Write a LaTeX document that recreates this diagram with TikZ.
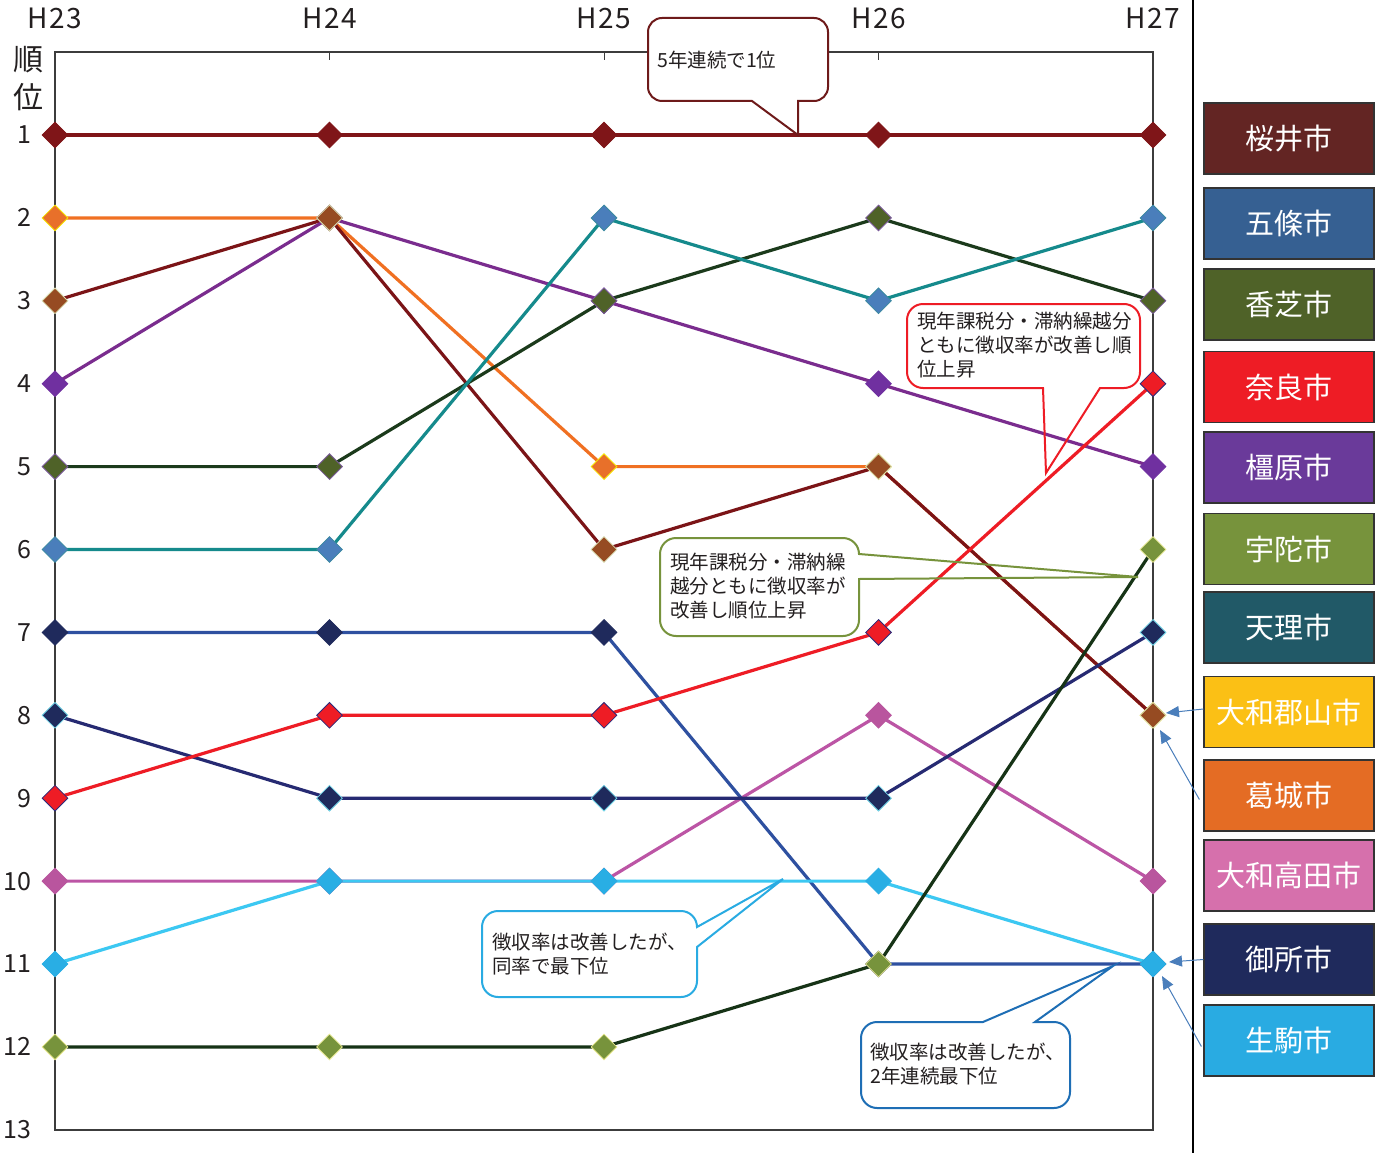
\documentclass[tikz,border=0pt]{standalone}
\usepackage{fontspec}
\setmainfont{Noto Sans CJK JP}
\newfontfamily\hdfont[LetterSpace=5]{Noto Sans CJK JP}
\usetikzlibrary{shapes.geometric,arrows.meta}
\definecolor{txt}{HTML}{231F20}
\definecolor{frame}{HTML}{3C3C3C}
\definecolor{lnA}{HTML}{7F1518}\definecolor{mfA}{HTML}{7F1518}\definecolor{moA}{HTML}{7F1518}
\definecolor{lnB}{HTML}{F07022}\definecolor{mfB}{HTML}{E8702A}\definecolor{moB}{HTML}{F5E400}
\definecolor{lnC}{HTML}{7B1417}\definecolor{mfC}{HTML}{964B22}\definecolor{moC}{HTML}{D9DDB0}
\definecolor{lnD}{HTML}{7A2C8E}\definecolor{mfD}{HTML}{7030A0}\definecolor{moD}{HTML}{7030A0}
\definecolor{lnE}{HTML}{1B3A1B}\definecolor{mfE}{HTML}{4F6228}\definecolor{moE}{HTML}{7A5A9A}
\definecolor{lnF}{HTML}{158A8C}\definecolor{mfF}{HTML}{4A7EBB}\definecolor{moF}{HTML}{3A8AA0}
\definecolor{lnG}{HTML}{2E50A0}\definecolor{mfG}{HTML}{1F2A5C}\definecolor{moG}{HTML}{1F2A5C}
\definecolor{lnH}{HTML}{262A72}\definecolor{mfH}{HTML}{1F2A5C}\definecolor{moH}{HTML}{6FD3E6}
\definecolor{lnI}{HTML}{EE1C25}\definecolor{mfI}{HTML}{EE1C25}\definecolor{moI}{HTML}{2A2A7A}
\definecolor{lnJ}{HTML}{BC55A5}\definecolor{mfJ}{HTML}{B9559E}\definecolor{moJ}{HTML}{B9559E}
\definecolor{lnK}{HTML}{3CC8F2}\definecolor{mfK}{HTML}{29AEE4}\definecolor{moK}{HTML}{29AEE4}
\definecolor{lnL}{HTML}{163316}\definecolor{mfL}{HTML}{77933C}\definecolor{moL}{HTML}{E8E890}
\definecolor{lg1}{HTML}{632523}
\definecolor{lg2}{HTML}{366092}
\definecolor{lg3}{HTML}{4F6228}
\definecolor{lg4}{HTML}{EE1C25}
\definecolor{lg5}{HTML}{6A3A9A}
\definecolor{lg6}{HTML}{77933C}
\definecolor{lg7}{HTML}{215967}
\definecolor{lg8}{HTML}{FBC015}
\definecolor{lg9}{HTML}{E46C24}
\definecolor{lg10}{HTML}{D670AC}
\definecolor{lg11}{HTML}{1F2A5C}
\definecolor{lg12}{HTML}{29ABE2}
\definecolor{lgborder}{HTML}{333333}
\definecolor{arrc}{HTML}{4A7EBB}
\definecolor{coA}{HTML}{6E1A1A}
\definecolor{coB}{HTML}{EE1C25}
\definecolor{coC}{HTML}{77933C}
\definecolor{coD}{HTML}{29ABE2}
\definecolor{coE}{HTML}{1E6EB5}
\begin{document}
\begin{tikzpicture}[x=1pt,y=-1pt,
  ln/.style={line width=3.2pt, line join=round, line cap=round},
  mk/.style={diamond, minimum width=26pt, minimum height=26pt, inner sep=0pt, line width=0.8pt},
  frm/.style={draw=frame, line width=1.3pt},
  hd/.style={font=\hdfont\fontsize{28}{28}\selectfont, text=txt, inner sep=0pt},
  rk/.style={font=\fontsize{25}{25}\selectfont, text=txt, inner sep=0pt, anchor=east},
  jp/.style={font=\fontsize{30}{30}\selectfont, text=txt, inner sep=0pt},
  ct/.style={font=\fontsize{19.5}{24}\selectfont, text=txt, inner sep=0pt, align=left, anchor=west},
  co/.style={line width=2pt, line join=miter},
  lgbox/.style={draw=lgborder, line width=1.2pt, minimum width=170pt, minimum height=71pt, inner sep=0pt, text=white, font=\fontsize{29}{29}\selectfont},
  arr/.style={draw=arrc, line width=1pt, -{Triangle[length=13pt,width=11pt]}}]
\useasboundingbox (0,0) rectangle (1382,1153);
\fill[white] (0,0) rectangle (1382,1153);
% frame
\draw[frm] (55,52) rectangle (1153,1130);
\foreach \xx in {329.5,604,878.5} \draw[frm, line width=1pt] (\xx,52) -- (\xx,60);
\draw[black, line width=1.2pt] (1193,0) -- (1193,1153);
% headers and rank labels
\foreach \h [count=\i from 0] in {23,...,27} \node[hd] (h\h) at ({55+274.5*\i},18) {H\h};
\foreach \r in {1,...,13} \node[rk] (r\r) at (31.5,{135+82.9*(\r-1)}) {\r};
\node[jp] (jun) at (28.5,60) {順};
\node[jp] (i) at (28.5,97.5) {位};
% data coordinates
\foreach \s/\a/\b/\c/\d/\e in {A/1/1/1/1/1,B/2/2/5/5/8,C/3/2/6/5/8,D/4/2/3/4/5,E/5/5/3/2/3,F/6/6/2/3/2,G/7/7/7/11/11,H/8/9/9/9/7,I/9/8/8/7/4,J/10/10/10/8/10,K/11/10/10/10/11,L/12/12/12/11/6}{
  \foreach \r [count=\i from 0] in {\a,\b,\c,\d,\e}
    \coordinate (\s\i) at ({55+274.5*\i},{135+82.9*(\r-1)});
}
% lines
\foreach \s in {A,B,C,D,E,F,J,G,H,I,K,L}
  \draw[ln, draw=ln\s] (\s0) -- (\s1) -- (\s2) -- (\s3) -- (\s4);
% markers
\foreach \s in {A,B,D,C,E,F,J,G,H,I,K,L}
  \foreach \i in {0,...,4}
    \node[mk, fill=mf\s, draw=mo\s] (m\s\i) at (\s\i) {};
% callout tips
\coordinate (t1) at (798,135);
\coordinate (t2) at (1046,473);
\coordinate (t3) at (1138,577);
\coordinate (t4) at (783,879);
\coordinate (t5) at (1113,966);
% callout 1
\fill[white, rounded corners=14pt] (648,18) rectangle (828,101);
\draw[co, draw=coA] (662,18) -- (814,18) .. controls (821.7,18) and (828,24.3) .. (828,32) -- (828,87) .. controls (828,94.7) and (821.7,101) .. (814,101) -- (798,101) -- (t1) -- (752,101) -- (662,101) .. controls (654.3,101) and (648,94.7) .. (648,87) -- (648,32) .. controls (648,24.3) and (654.3,18) .. (662,18) -- cycle;
\node[ct] (c1) at (657,60) {5年連続で1位};
% callout 2 (red)
\fill[white, rounded corners=16pt] (907,304) rectangle (1140,388);
\draw[co, draw=coB] (923,304) -- (1124,304) .. controls (1132.8,304) and (1140,311.2) .. (1140,320) -- (1140,372) .. controls (1140,380.8) and (1132.8,388) .. (1124,388) -- (1100,388) -- (t2) -- (1043,388) -- (923,388) .. controls (914.2,388) and (907,380.8) .. (907,372) -- (907,320) .. controls (907,311.2) and (914.2,304) .. (923,304) -- cycle;
\node[ct] (c2) at (917,345.5) {現年課税分・滞納繰越分\\ともに徴収率が改善し順\\位上昇};
% callout 3 (green)
\fill[white, rounded corners=16pt] (660,538) rectangle (859,636);
\draw[co, draw=coC] (676,538) -- (843,538) .. controls (851.8,538) and (859,545.2) .. (859,554) -- (t3) -- (859,579) -- (859,620) .. controls (859,628.8) and (851.8,636) .. (843,636) -- (676,636) .. controls (667.2,636) and (660,628.8) .. (660,620) -- (660,554) .. controls (660,545.2) and (667.2,538) .. (676,538) -- cycle;
\node[ct] (c3) at (670,586.5) {現年課税分・滞納繰\\越分ともに徴収率が\\改善し順位上昇};
% callout 4 (light blue)
\fill[white, rounded corners=16pt] (482,911) rectangle (697,997);
\draw[co, draw=coD] (498,911) -- (681,911) .. controls (689.8,911) and (697,918.2) .. (697,927) -- (t4) -- (697,947) -- (697,981) .. controls (697,989.8) and (689.8,997) .. (681,997) -- (498,997) .. controls (489.2,997) and (482,989.8) .. (482,981) -- (482,927) .. controls (482,918.2) and (489.2,911) .. (498,911) -- cycle;
\node[ct] (c4) at (492,954) {徴収率は改善したが、\\同率で最下位};
% callout 5 (blue)
\fill[white, rounded corners=16pt] (861,1022) rectangle (1070,1108);
\draw[co, draw=coE] (877,1022) -- (983,1022) -- (t5) -- (1035,1022) -- (1054,1022) .. controls (1062.8,1022) and (1070,1029.2) .. (1070,1038) -- (1070,1092) .. controls (1070,1100.8) and (1062.8,1108) .. (1054,1108) -- (877,1108) .. controls (868.2,1108) and (861,1100.8) .. (861,1092) -- (861,1038) .. controls (861,1029.2) and (868.2,1022) .. (877,1022) -- cycle;
\node[ct] (c5) at (870,1064.5) {徴収率は改善したが、\\2年連続最下位};
% legend
\node[lgbox, fill=lg1] (lg1) at (1289,138.5) {桜井市};
\node[lgbox, fill=lg2] (lg2) at (1289,223.5) {五條市};
\node[lgbox, fill=lg3] (lg3) at (1289,304.5) {香芝市};
\node[lgbox, fill=lg4] (lg4) at (1289,387) {奈良市};
\node[lgbox, fill=lg5] (lg5) at (1289,467.5) {橿原市};
\node[lgbox, fill=lg6] (lg6) at (1289,549) {宇陀市};
\node[lgbox, fill=lg7] (lg7) at (1289,627.5) {天理市};
\node[lgbox, fill=lg8] (lg8) at (1289,712) {大和郡山市};
\node[lgbox, fill=lg9] (lg9) at (1289,795.5) {葛城市};
\node[lgbox, fill=lg10] (lg10) at (1289,875.5) {大和高田市};
\node[lgbox, fill=lg11] (lg11) at (1289,959.5) {御所市};
\node[lgbox, fill=lg12] (lg12) at (1289,1040.5) {生駒市};
% legend arrows
\coordinate (p8) at (1166,713);
\coordinate (p9) at (1160,730);
\coordinate (p11) at (1169,962);
\coordinate (p12) at (1162,976);
\draw[arr] ([yshift=3pt]lg8.west) -- (p8);
\draw[arr] ([xshift=-4pt,yshift=-4pt]lg9.west) -- (p9);
\draw[arr] (lg11.west) -- (p11);
\draw[arr] ([xshift=-2pt,yshift=-6pt]lg12.west) -- (p12);
\end{tikzpicture}
\end{document}
